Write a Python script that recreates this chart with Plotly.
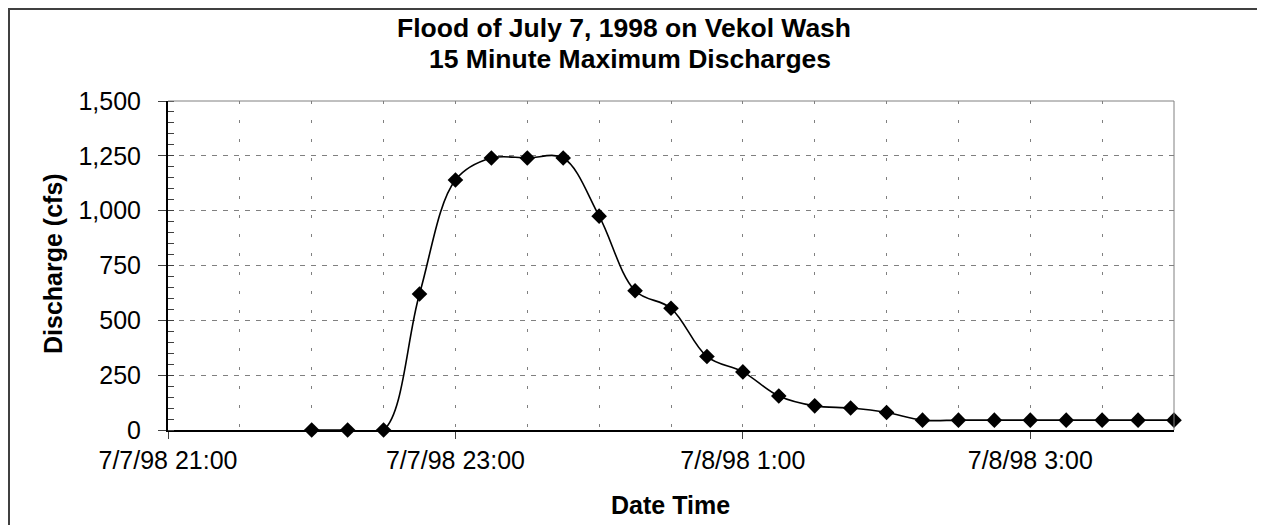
import plotly.graph_objects as go

times = ["1998-07-07 22:00", "1998-07-07 22:15", "1998-07-07 22:30", "1998-07-07 22:45",
         "1998-07-07 23:00", "1998-07-07 23:15", "1998-07-07 23:30", "1998-07-07 23:45",
         "1998-07-08 00:00", "1998-07-08 00:15", "1998-07-08 00:30", "1998-07-08 00:45",
         "1998-07-08 01:00", "1998-07-08 01:15", "1998-07-08 01:30", "1998-07-08 01:45",
         "1998-07-08 02:00", "1998-07-08 02:15", "1998-07-08 02:30", "1998-07-08 02:45",
         "1998-07-08 03:00", "1998-07-08 03:15", "1998-07-08 03:30", "1998-07-08 03:45",
         "1998-07-08 04:00"]
discharge = [0, 0, 0, 620, 1140, 1240, 1240, 1240, 975, 635, 555, 335, 265, 155, 110,
             100, 80, 45, 45, 45, 45, 45, 45, 45, 45]

title_lines = ["Flood of July 7, 1998 on Vekol Wash", "15 Minute Maximum Discharges"]
x_title = "Date Time"
y_title = "Discharge (cfs)"

FONT = "Liberation Sans, Arial, sans-serif"
OFF = 8  # browser body margin
W, H = 1257, 517
# plot area in page pixels
PL, PR, PT, PB = 168, 1174, 101, 430
L, R, T, B = PL - OFF, PR - OFF, PT - OFF, PB - OFF


def px(x):  # page x -> paper x
    return (x - OFF - L) / (R - L)


def py(y):  # page y -> paper y
    return (B - (y - OFF)) / (B - T)


fig = go.Figure()
fig.add_trace(go.Scatter(
    x=times, y=discharge, mode="lines+markers",
    line=dict(color="black", width=1.6, shape="spline", smoothing=1.0),
    marker=dict(symbol="diamond", size=12, color="black"),
    cliponaxis=False, showlegend=False,
))

fig.update_layout(
    width=W, height=H,
    margin=dict(l=L, r=W - R, t=T, b=H - B, pad=0),
    paper_bgcolor="white", plot_bgcolor="white",
    font=dict(family=FONT, size=25, color="black"),
    xaxis=dict(
        type="date",
        range=["1998-07-07 21:00", "1998-07-08 04:00"],
        tick0="1998-07-07 21:00", dtick=2 * 3600 * 1000,
        tickformat="%-m/%-d/%y %-H:%M",
        ticks="outside", ticklen=7, tickcolor="#404040", tickwidth=1,
        ticklabelstandoff=0,
        showline=True, linecolor="black", linewidth=2,
        showgrid=True, gridcolor="#808080", gridwidth=1, griddash="3px,16px",
        minor=dict(dtick=30 * 60 * 1000, showgrid=True, gridcolor="#808080",
                   gridwidth=1, griddash="3px,16px", ticks=""),
        tickfont=dict(size=25, family=FONT),
        zeroline=False,
    ),
    yaxis=dict(
        range=[0, 1500], dtick=250, tickformat=",d",
        ticks="outside", ticklen=8, tickcolor="#404040", tickwidth=1,
        ticklabelstandoff=12,
        showline=True, linecolor="black", linewidth=2,
        showgrid=True, gridcolor="#808080", gridwidth=1, griddash="5px,6px",
        minor=dict(dtick=50, ticks="inside", ticklen=6, tickcolor="#404040",
                   showgrid=False),
        tickfont=dict(size=25, family=FONT),
        zeroline=False,
    ),
    shapes=[
        dict(type="line", xref="paper", yref="paper", x0=0, x1=1, y0=1, y1=1,
             line=dict(color="#808080", width=1)),
        dict(type="line", xref="paper", yref="paper", x0=1, x1=1, y0=0, y1=1,
             line=dict(color="#808080", width=1)),
        dict(type="rect", xref="paper", yref="paper",
             x0=px(OFF + 1), x1=px(1300), y0=py(OFF + 1), y1=py(560),
             line=dict(color="#404040", width=2), layer="below"),
    ],
    annotations=[
        dict(text="<b>" + title_lines[0] + "</b>", xref="paper", yref="paper",
             x=px(624), y=py(28), xanchor="center", yanchor="middle", showarrow=False,
             font=dict(size=26.5, family=FONT, color="black")),
        dict(text="<b>" + title_lines[1] + "</b>", xref="paper", yref="paper",
             x=px(630), y=py(59), xanchor="center", yanchor="middle", showarrow=False,
             font=dict(size=26.5, family=FONT, color="black")),
        dict(text="<b>" + x_title + "</b>", xref="paper", yref="paper",
             x=px(670), y=py(505), xanchor="center", yanchor="middle", showarrow=False,
             font=dict(size=25, family=FONT, color="black")),
        dict(text="<b>" + y_title + "</b>", xref="paper", yref="paper",
             x=px(53), y=py(264), xanchor="center", yanchor="middle", showarrow=False,
             textangle=-90, font=dict(size=25, family=FONT, color="black")),
    ],
)

fig.write_html("out.html")
